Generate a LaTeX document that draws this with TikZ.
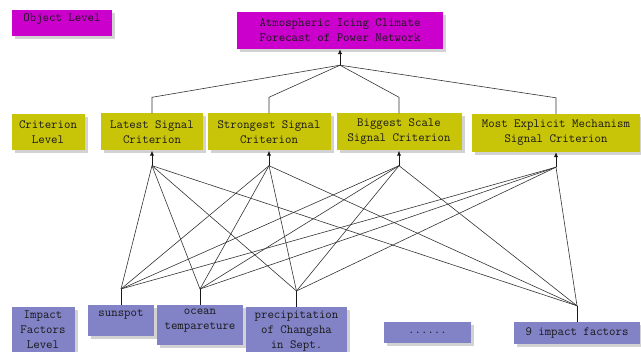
\documentclass[tikz,border=0pt]{standalone}
\usepackage{fontspec}
\usepackage{tikz}
\usetikzlibrary{arrows.meta,shadows}
\definecolor{objmag}{RGB}{204,0,204}
\definecolor{crityel}{RGB}{200,196,8}
\definecolor{facblue}{RGB}{130,130,198}
\newcommand{\padb}[1]{\rule[-#1]{0pt}{#1}}
\tikzset{
  lvbox/.style={font=\ttfamily\fontsize{12.5}{15}\selectfont,text=black!90,align=center,
    inner xsep=2pt,inner ysep=4pt,drop shadow={fill=black!35,shadow xshift=3pt,shadow yshift=-3pt}},
  objbox/.style={lvbox,fill=objmag},
  critbox/.style={lvbox,fill=crityel},
  facbox/.style={lvbox,fill=facblue},
  wire/.style={draw=black!80,line width=0.6pt},
  stem/.style={draw=black!90,line width=1pt}
}
\begin{document}
\begin{tikzpicture}[x=1pt,y=-1pt,>={Latex[length=5pt,width=4.5pt]}]
\useasboundingbox (0,0) rectangle (641,352);
\clip (0,0) rectangle (641,352);
% object level
\node[objbox,minimum width=100pt,anchor=north] (objlvl) at (62,10) {Object Level\padb{10pt}};
\node[objbox,minimum width=206pt,minimum height=37pt] (goal) at (340,30.5) {Atmospheric Icing Climate\\Forecast of Power Network};
% criterion level
\node[critbox,minimum width=73pt,minimum height=36pt] (critlvl) at (48,132.5) {Criterion\\Level};
\node[critbox,minimum width=102pt,minimum height=37pt] (latest) at (152,132) {Latest Signal\\Criterion};
\node[critbox,minimum width=123pt,minimum height=37pt] (strongest) at (269,132) {Strongest Signal\\Criterion};
\node[critbox,minimum width=125pt,minimum height=37pt] (biggest) at (399,132) {Biggest Scale\\Signal Criterion};
\node[critbox,minimum width=168pt,minimum height=38pt] (explicit) at (556,133) {Most Explicit Mechanism\\Signal Criterion};
% impact factors level
\node[facbox,minimum width=63pt,anchor=north] (factlvl) at (43,307) {Impact\\Factors\\Level\padb{12pt}};
\node[facbox,minimum width=66pt,anchor=north] (sunspot) at (121,305) {sunspot\padb{16pt}};
\node[facbox,minimum width=86pt,anchor=north] (ocean) at (200,305) {ocean\\tempareture\padb{11pt}};
\node[facbox,minimum width=101pt,anchor=north] (precip) at (296.5,307) {precipitation\\of Changsha\\in Sept.\padb{12pt}};
\node[facbox,minimum width=87pt,minimum height=21pt] (dots) at (427.5,332.5) {......};
\node[facbox,minimum width=126pt,minimum height=22pt] (nine) at (577,333) {9 impact factors};
% junctions
\coordinate (goal-j) at ([yshift=-16pt]goal.south);
\foreach \c in {latest,strongest,biggest,explicit} \coordinate (\c-j) at ([yshift=-15pt]\c.south);
\foreach \f in {sunspot,ocean,precip,nine} \coordinate (\f-j) at ([yshift=16pt]\f.north);
\draw[stem,->] (goal-j) -- (goal.south);
\foreach \c in {latest,strongest,biggest,explicit}{
  \draw[wire] (goal-j) -- ([yshift=16pt]\c.north) -- (\c.north);
  \draw[stem,->] (\c-j) -- (\c.south);
  \foreach \f in {sunspot,ocean,precip,nine} \draw[wire] (\c-j) -- (\f-j);
}
\foreach \f in {sunspot,ocean,precip,nine} \draw[stem] (\f-j) -- (\f.north);
\end{tikzpicture}
\end{document}
